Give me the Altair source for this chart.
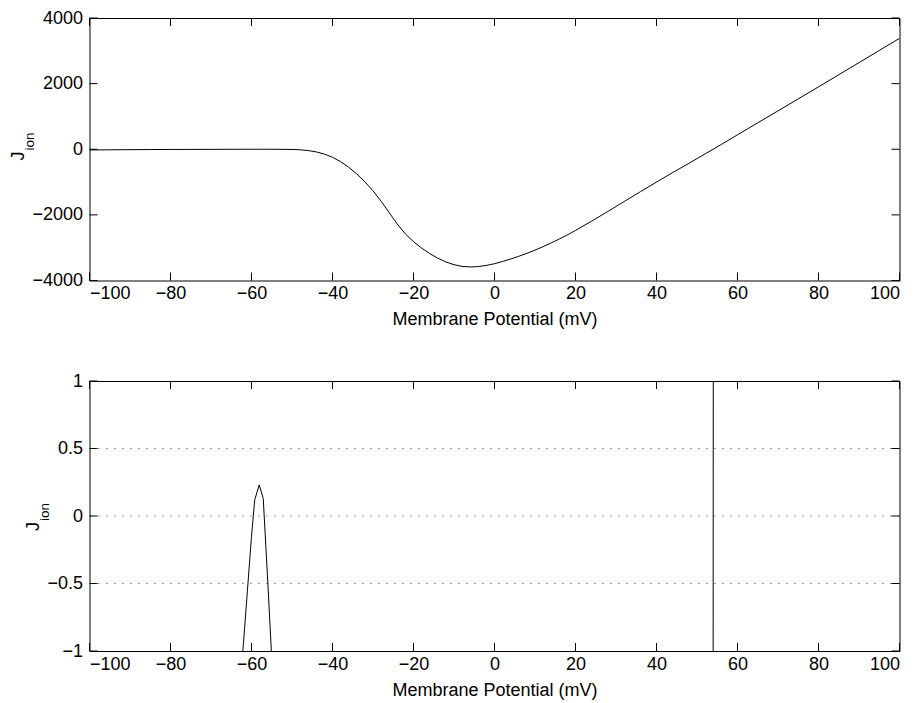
import altair as alt
import pandas as pd

# ---- data ----
potential_mv = [-100, -95, -90, -85, -80, -75, -70, -66, -64, -63, -62, -61, -60,
                -59.2, -58.1, -57.1, -56.1, -55.1, -54, -52, -50, -48, -46, -44,
                -42, -40, -38, -36, -34, -32, -30, -28, -26, -24, -22, -20, -18,
                -16, -14, -12, -10, -8, -6, -4, -2, 0, 2, 4, 6, 8, 10, 12, 14, 16,
                18, 20, 24, 28, 32, 36, 40, 44, 48, 50, 52, 54, 56, 60, 65, 70, 75,
                80, 85, 90, 95, 100]
j_ion = [-22, -17, -13, -9, -6.5, -4.5, -3, -1.9, -1.45, -1.3, -0.95, -0.55, -0.15,
         0.12, 0.23, 0.13, -0.42, -1.0, -1.7, -3.5, -6, -17, -40, -81,
         -147, -245, -379, -549, -753, -991, -1267, -1583, -1931, -2281, -2581, -2816, -3011,
         -3179, -3321, -3435, -3519, -3570, -3587, -3575, -3540, -3488, -3420, -3344, -3262, -3172, -3074, -2968, -2855, -2736,
         -2610, -2475, -2190, -1895, -1595, -1295, -1000, -710, -430, -285, -140, 0, 147, 440, 805, 1170, 1535,
         1900, 2270, 2640, 3010, 3380]

x_ticks = [-100, -80, -60, -40, -20, 0, 20, 40, 60, 80, 100]
top_y_ticks = [-4000, -2000, 0, 2000, 4000]
bottom_y_ticks = [-1, -0.5, 0, 0.5, 1]
grid_levels = [-0.5, 0, 0.5]

x_title = "Membrane Potential (mV)"
y_main = "J"
y_sub = "ion"

W = 810
TL = 8  # inward tick length
FONT = "Liberation Sans"

curve = pd.DataFrame({"V": potential_mv, "J": j_ion})
xt = pd.DataFrame({"V": x_ticks})


def panel(H, ydomain, yticks, yfmt, grid, jpos, ionpos):
    xs = alt.Scale(domain=[-100, 100], nice=False, zero=False)
    ys = alt.Scale(domain=ydomain, nice=False, zero=False)
    xaxis = alt.Axis(values=x_ticks, title=x_title, domain=False, ticks=False,
                     grid=False, labelPadding=4, titlePadding=8, format="d")
    yaxis = alt.Axis(values=yticks, title=None, domain=False, ticks=False,
                     grid=False, labelPadding=7, format=yfmt)
    X = lambda: alt.X("V:Q", scale=xs, axis=xaxis, title=x_title)
    Y = lambda: alt.Y("J:Q", scale=ys, axis=yaxis, title=None)
    layers = []
    yt = pd.DataFrame({"J": yticks})
    if grid:
        gdf = pd.DataFrame({"J": grid_levels})
        layers.append(
            alt.Chart(gdf).mark_rule(color="black", strokeWidth=1, strokeDash=[1, 7],
                                     opacity=0.8)
            .encode(y=Y())
        )
    line = alt.Chart(curve).mark_line(color="black", strokeWidth=1, clip=True).encode(
        x=X(), y=Y(), order=alt.Order("V:Q"),
    )
    layers.append(line)
    layers += [
        alt.Chart(xt).mark_rule(color="black").encode(
            x=X(), y=alt.value(0), y2=alt.value(TL)),
        alt.Chart(xt).mark_rule(color="black").encode(
            x=X(), y=alt.value(H - TL), y2=alt.value(H)),
        alt.Chart(yt).mark_rule(color="black").encode(
            y=Y(), x=alt.value(0), x2=alt.value(TL)),
        alt.Chart(yt).mark_rule(color="black").encode(
            y=Y(), x=alt.value(W - TL), x2=alt.value(W)),
        alt.Chart(pd.DataFrame({"s": [y_main]})).mark_text(
            angle=270, align="center", baseline="middle", font=FONT, fontSize=18,
            color="black").encode(text="s:N", x=alt.value(jpos[0]), y=alt.value(jpos[1])),
        alt.Chart(pd.DataFrame({"s": [y_sub]})).mark_text(
            angle=270, align="center", baseline="middle", font=FONT, fontSize=13.5,
            color="black").encode(text="s:N", x=alt.value(ionpos[0]), y=alt.value(ionpos[1])),
    ]
    return alt.layer(*layers).properties(width=W, height=H)


top = panel(262.5, [-4000, 4000], top_y_ticks, "d", False, (-70.8, 138), (-59.3, 123.5))
bottom = panel(270, [-1, 1], bottom_y_ticks, "~g", True, (-55.8, 145.5), (-44.8, 131))

chart = alt.vconcat(top, bottom, spacing=42).properties(
    padding={"left": 0.5, "top": 0, "right": 0, "bottom": 0}
).configure_view(stroke="black", strokeWidth=1).configure_axis(
    labelFont=FONT, labelFontSize=18, labelColor="black",
    titleFont=FONT, titleFontSize=18, titleFontWeight="normal", titleColor="black",
)

chart.save("out.html", embed_options={"renderer": "svg", "actions": False})
